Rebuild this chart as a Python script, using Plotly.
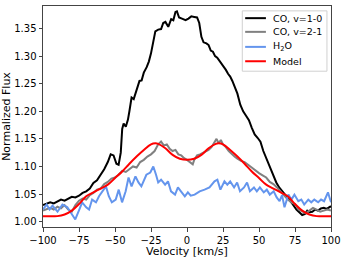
import plotly.graph_objects as go

# CO v=1-0
co10_v = [-100, -97.5, -95, -92.5, -90, -87.5, -85, -82.5, -80, -77.5, -75, -72.5, -70, -67.5, -65, -62.5,
          -60, -57.5, -55, -53, -51, -49, -47.5, -46, -45, -44, -42.5, -41, -40, -38.5, -37, -35, -33,
          -31.5, -30, -28, -26.5, -25, -23.5, -22, -20, -18, -16.5, -15, -13, -11, -9.5, -8, -7, -5.5,
          -3.5, -1, 1, 3, 5, 7, 8.5, 10, 11.5, 13.5, 15, 16.5, 18, 19.5, 21, 23, 25, 27, 28.5, 30, 31.5,
          33, 35, 37, 39, 41, 43, 45, 47, 49, 51, 53, 55, 57.5, 60, 62, 64, 67, 69, 71, 73, 76, 78, 80,
          82, 83.5, 85, 87, 89, 91, 93, 95, 97, 99, 100]
co10_f = [1.030, 1.032, 1.035, 1.033, 1.037, 1.040, 1.038, 1.042, 1.045, 1.044, 1.047, 1.052, 1.055, 1.060,
          1.070, 1.075, 1.085, 1.095, 1.108, 1.122, 1.120, 1.105, 1.103, 1.125, 1.168, 1.178, 1.172, 1.185,
          1.200, 1.225, 1.222, 1.240, 1.255, 1.256, 1.270, 1.280, 1.290, 1.305, 1.325, 1.345, 1.348, 1.349,
          1.360, 1.362, 1.353, 1.367, 1.365, 1.380, 1.381, 1.370, 1.368, 1.365, 1.368, 1.372, 1.371, 1.370,
          1.360, 1.335, 1.325, 1.323, 1.320, 1.310, 1.308, 1.300, 1.297, 1.290, 1.282, 1.275, 1.268, 1.263,
          1.255, 1.245, 1.232, 1.212, 1.200, 1.192, 1.184, 1.170, 1.158, 1.152, 1.145, 1.128, 1.115, 1.099,
          1.085, 1.071, 1.062, 1.053, 1.045, 1.040, 1.033, 1.022, 1.017, 1.012, 1.014, 1.020, 1.017, 1.018,
          1.022, 1.020, 1.024, 1.025, 1.023, 1.026, 1.028]

# CO v=2-1
co21_v = [-100, -97.5, -95, -92.5, -90, -87.5, -85, -82.5, -80, -77.5, -75, -72.5, -70, -67.5, -65, -62.5,
          -60, -57.5, -55, -52.5, -50, -47.5, -45, -42.5, -40, -37.5, -35, -32.5, -30, -27.5, -25, -22.5,
          -20, -18, -16, -14, -12, -10, -8, -6, -4, -2, 0, 2, 4, 5, 7, 9, 11, 13, 15, 17, 19, 20.5, 22,
          23.5, 25, 27, 29, 31, 33, 35, 37.5, 40, 42.5, 45, 47.5, 50, 52.5, 55, 57.5, 60, 62.5, 65, 67.5,
          70, 72.5, 75, 77.5, 80, 82.5, 85, 87.5, 90, 92.5, 95, 97.5, 100]
co21_f = [1.020, 1.022, 1.025, 1.022, 1.027, 1.024, 1.030, 1.022, 1.018, 1.030, 1.038, 1.042, 1.040, 1.048,
          1.052, 1.058, 1.060, 1.068, 1.072, 1.078, 1.080, 1.085, 1.092, 1.090, 1.095, 1.100, 1.098, 1.108,
          1.112, 1.118, 1.122, 1.128, 1.140, 1.145, 1.138, 1.140, 1.132, 1.128, 1.130, 1.122, 1.120, 1.115,
          1.112, 1.108, 1.104, 1.112, 1.120, 1.122, 1.125, 1.128, 1.130, 1.135, 1.145, 1.150, 1.142, 1.148,
          1.140, 1.135, 1.128, 1.122, 1.118, 1.114, 1.110, 1.108, 1.103, 1.098, 1.092, 1.088, 1.084, 1.080,
          1.072, 1.068, 1.062, 1.055, 1.048, 1.040, 1.035, 1.032, 1.022, 1.018, 1.015, 1.020, 1.025, 1.022,
          1.018, 1.020, 1.022, 1.020]

# H2O
h2o_v = [-100, -97.5, -95.4, -93.4, -89.9, -86.5, -83.1, -79.6, -77.6, -74.8, -72.8, -70.0, -68.0, -65.9,
         -63.2, -61.1, -59.1, -56.3, -54.3, -52.2, -49.5, -47.4, -45.1, -42.6, -40.6, -38.5, -35.8, -33.7,
         -31.7, -28.2, -25.5, -23.4, -21.5, -20.0, -18.0, -15.2, -13.2, -11.1, -8.3, -6.3, -4.2, -1.5, 0.6,
         2.6, 5.3, 8.8, 12.2, 15.6, 19.1, 21.1, 23.2, 26.0, 28.0, 30.0, 32.7, 34.8, 36.8, 39.6, 41.7, 43.7,
         46.5, 48.5, 50.6, 53.3, 55.4, 57.5, 60.2, 62.3, 64.3, 66.0, 67.7, 70.4, 72.5, 74.6, 77.3, 79.4,
         81.4, 84.2, 86.3, 88.4, 91.1, 93.1, 95.2, 97.9, 100]
h2o_f = [1.022, 1.031, 1.022, 1.029, 1.018, 1.031, 1.026, 1.013, 1.004, 1.022, 1.035, 1.026, 1.022, 1.040,
         1.035, 1.046, 1.053, 1.064, 1.046, 1.035, 1.040, 1.058, 1.035, 1.055, 1.080, 1.064, 1.082, 1.071,
         1.064, 1.085, 1.089, 1.100, 1.085, 1.071, 1.076, 1.067, 1.073, 1.055, 1.049, 1.062, 1.055, 1.046,
         1.053, 1.047, 1.049, 1.055, 1.058, 1.062, 1.073, 1.076, 1.058, 1.073, 1.067, 1.073, 1.062, 1.071,
         1.055, 1.062, 1.071, 1.055, 1.062, 1.055, 1.062, 1.053, 1.058, 1.049, 1.055, 1.044, 1.037, 1.048,
         1.026, 1.049, 1.040, 1.049, 1.037, 1.040, 1.031, 1.040, 1.035, 1.040, 1.035, 1.040, 1.037, 1.053,
         1.035]

# Model
model_v = [-100, -95, -90, -85, -80, -75, -70, -65, -60, -55, -50, -45, -40, -35, -30, -25, -22, -20, -15,
           -10, -5, 0, 5, 10, 15, 20, 22, 25, 30, 35, 40, 45, 50, 55, 60, 65, 70, 75, 80, 85, 90, 95, 100]
model_f = [1.010, 1.010, 1.010, 1.013, 1.020, 1.032, 1.046, 1.053, 1.060, 1.067, 1.079, 1.091, 1.105,
           1.118, 1.130, 1.140, 1.142, 1.141, 1.133, 1.121, 1.114, 1.112, 1.114, 1.121, 1.133, 1.141,
           1.142, 1.140, 1.130, 1.118, 1.105, 1.091, 1.079, 1.067, 1.060, 1.053, 1.046, 1.032, 1.020,
           1.013, 1.010, 1.010, 1.010]

series_names = ["CO, v=1-0", "CO, v=2-1", "H<sub>2</sub>O", "Model"]
series_colors = ["black", "gray", "cornflowerblue", "red"]

x_ticks = [-100, -75, -50, -25, 0, 25, 50, 75, 100]
y_ticks = [1.00, 1.05, 1.10, 1.15, 1.20, 1.25, 1.30, 1.35]

FONT = "DejaVu Sans"

fig = go.Figure()
series = [(co10_v, co10_f, "linear"), (co21_v, co21_f, "linear"), (h2o_v, h2o_f, "linear"),
          (model_v, model_f, "spline")]
for (xs, ys, shp), name, col in zip(series, series_names, series_colors):
    fig.add_trace(go.Scatter(x=xs, y=ys, mode="lines", name=name, showlegend=False,
                             line=dict(color=col, width=2, shape=shp)))

# legend box drawn in matplotlib style (compact rows)
leg_x0, leg_x1, leg_y0, leg_y1 = 0.692, 0.986, 0.705, 0.978
fig.add_shape(type="rect", xref="paper", yref="paper", x0=leg_x0, x1=leg_x1, y0=leg_y0, y1=leg_y1,
              line=dict(color="#d0d0d0", width=1), fillcolor="rgba(255,255,255,0.8)", layer="above")
row_y = [0.945, 0.883, 0.815, 0.750]
for name, col, ry in zip(series_names, series_colors, row_y):
    fig.add_shape(type="line", xref="paper", yref="paper", x0=0.702, x1=0.774, y0=ry, y1=ry,
                  line=dict(color=col, width=2), layer="above")
    fig.add_annotation(xref="paper", yref="paper", x=0.793, y=ry, text=name, showarrow=False,
                       xanchor="left", yanchor="middle", font=dict(family=FONT, size=9.5, color="black"))

axis_common = dict(showgrid=False, zeroline=False, showline=True, linecolor="#444", linewidth=1,
                   mirror=True, ticks="outside", ticklen=3.5, tickcolor="#444", tickwidth=1,
                   tickfont=dict(family=FONT, size=10, color="black"))

fig.update_xaxes(range=[-100, 100], tickvals=x_ticks, ticktext=[f"{t}".replace("-", "\u2212") for t in x_ticks],
                 title=dict(text="Velocity [km/s]", font=dict(family=FONT, size=11, color="black"), standoff=1),
                 **axis_common)
fig.update_yaxes(range=[0.9903, 1.3908], tickvals=y_ticks, ticktext=[f"{t:.2f}" for t in y_ticks],
                 title=dict(text="Normalized Flux", font=dict(family=FONT, size=11, color="black"), standoff=2),
                 **axis_common)

fig.update_layout(
    width=346, height=259,
    margin=dict(l=43, r=11, t=5, b=31),
    paper_bgcolor="white", plot_bgcolor="white",
    font=dict(family=FONT, size=10, color="black"),
    showlegend=False,
)

fig.write_html("out.html", config={"displayModeBar": False},
               post_script="document.body.style.margin='0';")
